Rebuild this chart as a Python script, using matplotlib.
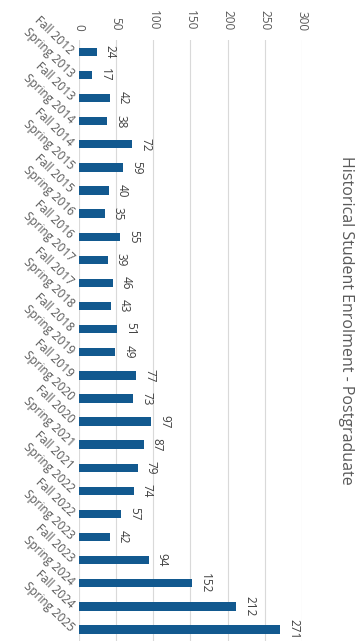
import matplotlib.pyplot as plt

terms = ['Fall 2012', 'Spring 2013', 'Fall 2013', 'Spring 2014', 'Fall 2014',
         'Spring 2015', 'Fall 2015', 'Spring 2016', 'Fall 2016', 'Spring 2017',
         'Fall 2017', 'Spring 2018', 'Fall 2018', 'Spring 2019', 'Fall 2019',
         'Spring 2020', 'Fall 2020', 'Spring 2021', 'Fall 2021', 'Spring 2022',
         'Fall 2022', 'Spring 2023', 'Fall 2023', 'Spring 2024', 'Fall 2024',
         'Spring 2025']
students = [24, 17, 42, 38, 72, 59, 40, 35, 55, 39, 46, 43, 51, 49, 77, 73,
            97, 87, 79, 74, 57, 42, 94, 152, 212, 271]
ticks = [0, 50, 100, 150, 200, 250, 300]

plt.rcParams['font.family'] = ['Open Sans', 'DejaVu Sans']

fig = plt.figure(figsize=(3.62, 6.41), dpi=100)
ax = fig.add_axes([0.218, 0.0, 0.616, 0.937])

pos = list(range(len(terms)))
ax.barh(pos, students, height=0.36, color='#12598F', zorder=3)
for p, v in zip(pos, students):
    ax.annotate(str(v), (v, p), xytext=(5, 0), textcoords='offset points',
                rotation=-90, ha='left', va='center', fontsize=8.5, color='#404040')

ax.set_xlim(0, 300)
ax.set_ylim(len(terms) - 0.5, -0.5)
ax.set_xticks(ticks)
ax.xaxis.tick_top()
ax.set_xticklabels([str(t) for t in ticks], rotation=-90, fontsize=8.5, color='#595959')
ax.set_yticks(pos)
ax.set_yticklabels(terms, rotation=-44, ha='right', va='center',
                   rotation_mode='anchor', fontsize=8.5, color='#595959')
ax.tick_params(axis='x', length=0, pad=7)
ax.tick_params(axis='y', length=0, pad=5)
ax.grid(axis='x', color='#D9D9D9', linewidth=0.8, zorder=0)
for s in ax.spines.values():
    s.set_visible(False)

fig.text(0.955, 0.5, 'Historical Student Enrolment - Postgraduate', rotation=-90,
         ha='center', va='center', fontsize=11.5, color='#595959')

fig.savefig('out.png', dpi=100)
